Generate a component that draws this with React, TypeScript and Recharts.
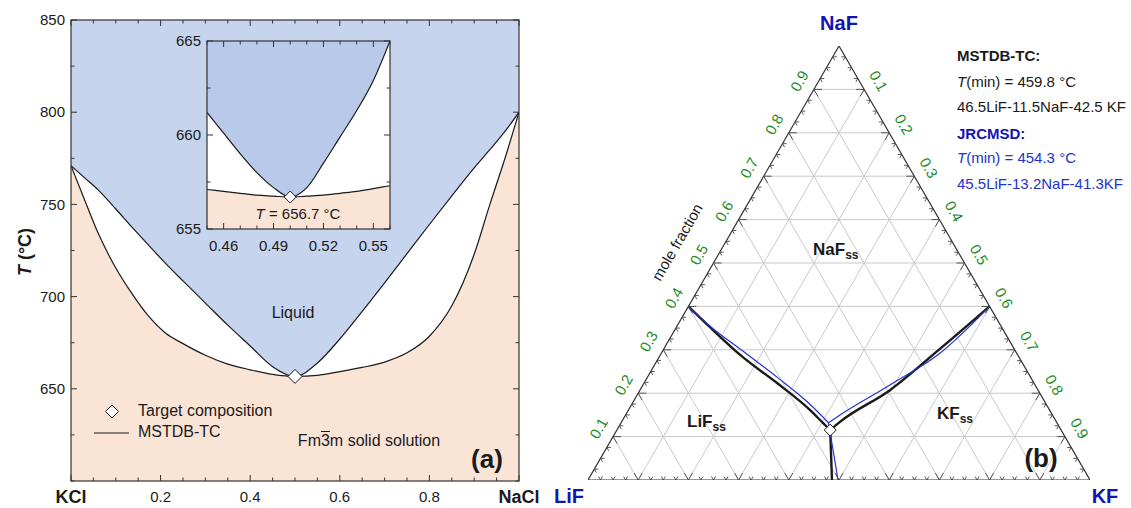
import React from 'react'
import { ComposedChart, Area, Line, Scatter, XAxis, YAxis, CartesianGrid } from 'recharts'

const FONT = '"Liberation Sans", Arial, Helvetica, sans-serif'
const INK = '#1a1a1a'
const AXIS = '#333'
const LIQ_BLUE = '#c6d4ed'
const INSET_BLUE = '#b8c9e9'
const SOLID_PINK = '#fae4d6'
const GREEN = '#1e8a1e'
const NAVY = '#1414b4'
const JRC_BLUE = '#2233cc'
const GRID = '#c9c9c9'

// ---------- (a) KCl-NaCl ----------
const X_NACL = [0, 0.03, 0.06, 0.1, 0.135, 0.17, 0.21, 0.25, 0.3, 0.35, 0.4, 0.45, 0.5, 0.55, 0.6, 0.65, 0.7, 0.75, 0.8, 0.85, 0.9, 0.935, 0.97, 1]
const LIQUIDUS = [771, 764.5, 758, 747.5, 738, 728.7, 718.3, 708.5, 696.5, 684.5, 673.2, 662, 656.7, 664, 677, 692, 707.5, 723.3, 739.1, 754.6, 769.8, 779.7, 790, 800]
const SOLIDUS = [771, 752.7, 734.7, 715.5, 702, 690.3, 680.4, 674.5, 668.2, 663.4, 660.3, 657.8, 656.7, 657.3, 659.3, 661.6, 664.5, 669.5, 678.5, 695, 723, 750, 776, 800]
const TARGET = [{ x: 0.5, T: 656.7 }]

const X_TICKS = [0, 0.05, 0.1, 0.15, 0.2, 0.25, 0.3, 0.35, 0.4, 0.45, 0.5, 0.55, 0.6, 0.65, 0.7, 0.75, 0.8, 0.85, 0.9, 0.95, 1]
const X_MAJOR = [0, 0.2, 0.4, 0.6, 0.8, 1]
const X_TICK_LABELS: Record<string, string> = { '0': 'KCl', '0.2': '0.2', '0.4': '0.4', '0.6': '0.6', '0.8': '0.8', '1': 'NaCl' }
const T_TICKS = [600, 625, 650, 675, 700, 725, 750, 775, 800, 825, 850]
const T_LABELS = [650, 700, 750, 800, 850]

// inset around the minimum
const INSET_X = [0.45, 0.46, 0.47, 0.48, 0.49, 0.5, 0.51, 0.52, 0.53, 0.54, 0.55, 0.56]
const INSET_LIQ = [661.2, 660.1, 659.0, 658.0, 657.2, 656.7, 657.2, 658.5, 659.9, 661.3, 662.9, 665]
const INSET_SOL = [657.1, 657.0, 656.9, 656.8, 656.75, 656.7, 656.75, 656.8, 656.9, 657.0, 657.15, 657.3]
const INSET_X_TICKS = [0.45, 0.46, 0.47, 0.48, 0.49, 0.5, 0.51, 0.52, 0.53, 0.54, 0.55, 0.56]
const INSET_X_LABELS = [0.46, 0.49, 0.52, 0.55]
const INSET_T_TICKS = [655, 657.5, 660, 662.5, 665]
const INSET_T_LABELS = [655, 660, 665]

// ---------- (b) LiF-NaF-KF, compositions as [LiF, NaF, KF] ----------
type Tern = [number, number, number]
const MSTDB_LIF_NAF: Tern[] = [[0.6, 0.4, 0], [0.581, 0.352, 0.067], [0.55, 0.283, 0.167], [0.512, 0.224, 0.264], [0.477, 0.161, 0.362], [0.466, 0.131, 0.403], [0.465, 0.115, 0.425]]
const MSTDB_NAF_KF: Tern[] = [[0.465, 0.115, 0.425], [0.431, 0.134, 0.435], [0.295, 0.207, 0.498], [0.148, 0.302, 0.55], [0, 0.4, 0.6]]
const MSTDB_LIF_KF: Tern[] = [[0.465, 0.115, 0.425], [0.514, 0, 0.486]]
const JRC_LIF_NAF: Tern[] = [[0.6, 0.4, 0], [0.58, 0.355, 0.065], [0.543, 0.297, 0.16], [0.505, 0.237, 0.258], [0.471, 0.175, 0.354], [0.455, 0.132, 0.413]]
const JRC_NAF_KF: Tern[] = [[0.455, 0.132, 0.413], [0.423, 0.15, 0.427], [0.289, 0.219, 0.492], [0.153, 0.292, 0.555], [0, 0.4, 0.6]]
const JRC_LIF_KF: Tern[] = [[0.455, 0.132, 0.413], [0.483, 0.053, 0.464], [0.502, 0, 0.498]]
const MSTDB_MIN: Tern = [0.465, 0.115, 0.425]
const GRID_STEPS = [0.1, 0.2, 0.3, 0.4, 0.5, 0.6, 0.7, 0.8, 0.9]
const EDGE_LABELS = ['0.1', '0.2', '0.3', '0.4', '0.5', '0.6', '0.7', '0.8', '0.9']

const H = Math.sqrt(3) / 2
const tern = ([lif, naf, kf]: Tern) => ({ x: kf + naf / 2, y: naf * H, lif })

const mainData = X_NACL.map((x, i) => ({ x, liq: LIQUIDUS[i], sol: SOLIDUS[i] }))
const insetData = INSET_X.map((x, i) => ({ x, liq: INSET_LIQ[i], sol: INSET_SOL[i] }))

// plot boxes (page pixels) – the charts' margins are derived from these
const MAIN = { left: 71, top: 20, w: 448, h: 461, cw: 540, ch: 508, yw: 60, xh: 20 }
const INSET = { x0: 150, y0: 30, left: 207, top: 41, w: 183, h: 188, cw: 250, ch: 230, yw: 50, xh: 25 }

const near = (list: number[], v: number) => list.some((m) => Math.abs(m - v) < 1e-6)

// bottom axis tick: draws the inward tick at the bottom and its mirror at the top of the frame
const xTick = (span: number, majors: number[], labelFor: (v: number) => string | null, gap: number) => (p: any) => {
  const v = Number(p.payload?.value)
  const len = near(majors, v) ? 6 : 3.5
  const { x, y } = p
  const lab = labelFor(v)
  const bold = lab === 'KCl' || lab === 'NaCl'
  return (
    <g>
      <line x1={x} y1={y} x2={x} y2={y - len} stroke={AXIS} />
      <line x1={x} y1={y - span} x2={x} y2={y - span + len} stroke={AXIS} />
      {lab && (
        <text x={x} y={y + gap} dy="0.35em" textAnchor="middle" fontFamily={FONT} fontSize={bold ? 18 : 15} fontWeight={bold ? 700 : 400} fill={INK}>{lab}</text>
      )}
    </g>
  )
}
// left axis tick with its mirror on the right side
const yTick = (span: number, majors: number[]) => (p: any) => {
  const v = Number(p.payload?.value)
  const major = near(majors, v)
  const len = major ? 6 : 3.5
  const { x, y } = p
  return (
    <g>
      <line x1={x} y1={y} x2={x + len} y2={y} stroke={AXIS} />
      <line x1={x + span} y1={y} x2={x + span - len} y2={y} stroke={AXIS} />
      {major && (
        <text x={x - 6} y={y} dy="0.35em" textAnchor="end" fontFamily={FONT} fontSize={15} fill={INK}>{v}</text>
      )}
    </g>
  )
}

const diamond = (half: number) => (p: any) => {
  const { cx, cy } = p
  return <path d={`M${cx},${cy - half}L${cx + half},${cy}L${cx},${cy + half}L${cx - half},${cy}Z`} fill="#fff" stroke={INK} strokeWidth={1} />
}

function PanelA() {
  const m = { top: MAIN.top, left: MAIN.left - MAIN.yw, right: MAIN.cw - MAIN.left - MAIN.w, bottom: MAIN.ch - MAIN.top - MAIN.h - MAIN.xh }
  return (
    <ComposedChart width={MAIN.cw} height={MAIN.ch} data={mainData} margin={m}>
      <CartesianGrid fill={LIQ_BLUE} fillOpacity={1} stroke="none" horizontal={false} vertical={false} />
      <XAxis dataKey="x" type="number" domain={[0, 1]} ticks={X_TICKS} interval={0} height={MAIN.xh} tickSize={0} tickMargin={0} tickLine={false} axisLine={false} allowDataOverflow
        tick={xTick(MAIN.h, X_MAJOR, (v) => X_TICK_LABELS[String(v)] ?? null, 16)} />
      <YAxis type="number" domain={[600, 850]} ticks={T_TICKS} interval={0} width={MAIN.yw} tickSize={0} tickMargin={0} tickLine={false} axisLine={false} allowDataOverflow
        tick={yTick(MAIN.w, T_LABELS)} />
      <Area type="monotone" dataKey="liq" fill="#ffffff" fillOpacity={1} stroke="none" isAnimationActive={false} />
      <Area type="monotone" dataKey="sol" fill={SOLID_PINK} fillOpacity={1} stroke="none" isAnimationActive={false} />
      <Line type="monotone" dataKey="liq" stroke={INK} strokeWidth={1.2} dot={false} activeDot={false} isAnimationActive={false} />
      <Line type="monotone" dataKey="sol" stroke={INK} strokeWidth={1.2} dot={false} activeDot={false} isAnimationActive={false} />
      <Scatter data={TARGET} dataKey="T" shape={diamond(7)} isAnimationActive={false} />
    </ComposedChart>
  )
}

function Inset() {
  const m = { top: INSET.top - INSET.y0, left: INSET.left - INSET.x0 - INSET.yw, right: INSET.cw - (INSET.left - INSET.x0) - INSET.w, bottom: INSET.ch - (INSET.top - INSET.y0) - INSET.h - INSET.xh }
  return (
    <ComposedChart width={INSET.cw} height={INSET.ch} data={insetData} margin={m}>
      <CartesianGrid fill={INSET_BLUE} fillOpacity={1} stroke="none" horizontal={false} vertical={false} />
      <XAxis dataKey="x" type="number" domain={[0.45, 0.56]} ticks={INSET_X_TICKS} interval={0} height={INSET.xh} tickSize={0} tickMargin={0} tickLine={false} axisLine={false} allowDataOverflow
        tick={xTick(INSET.h, INSET_X_LABELS, (v) => (near(INSET_X_LABELS, v) ? v.toFixed(2) : null), 17)} />
      <YAxis type="number" domain={[655, 665]} ticks={INSET_T_TICKS} interval={0} width={INSET.yw} tickSize={0} tickMargin={0} tickLine={false} axisLine={false} allowDataOverflow
        tick={yTick(INSET.w, INSET_T_LABELS)} />
      <Area type="monotone" dataKey="liq" fill="#ffffff" fillOpacity={1} stroke="none" isAnimationActive={false} />
      <Area type="monotone" dataKey="sol" fill={SOLID_PINK} fillOpacity={1} stroke="none" isAnimationActive={false} />
      <Line type="monotone" dataKey="liq" stroke={INK} strokeWidth={1.2} dot={false} activeDot={false} isAnimationActive={false} />
      <Line type="monotone" dataKey="sol" stroke={INK} strokeWidth={1.2} dot={false} activeDot={false} isAnimationActive={false} />
      <Scatter data={TARGET} dataKey="T" shape={diamond(6)} isAnimationActive={false} />
    </ComposedChart>
  )
}

// ternary grid lines: constant NaF, constant LiF, constant KF
const gridLines = GRID_STEPS.flatMap((v) => [
  [tern([1 - v, v, 0]), tern([0, v, 1 - v])],
  [tern([v, 0, 1 - v]), tern([v, 1 - v, 0])],
  [tern([1 - v, 0, v]), tern([0, 1 - v, v])],
])
const frame = [tern([1, 0, 0]), tern([0, 0, 1]), tern([0, 1, 0]), tern([1, 0, 0])]

const TICK_FRACS = Array.from({ length: 39 }, (_, i) => (i + 1) / 40)
const edgeTicks = TICK_FRACS.flatMap((v, i) => {
  const major = (i + 1) % 4 === 0
  return [
    { ...tern([v, 0, 1 - v]), side: 'bottom', major },
    { ...tern([1 - v, v, 0]), side: 'left', major },
    { ...tern([0, 1 - v, v]), side: 'right', major },
  ]
})
const edgeLabels = GRID_STEPS.flatMap((v, i) => [
  { ...tern([v, 0, 1 - v]), side: 'bottom', text: EDGE_LABELS[i] },
  { ...tern([1 - v, v, 0]), side: 'left', text: EDGE_LABELS[i] },
  { ...tern([0, 1 - v, v]), side: 'right', text: EDGE_LABELS[i] },
])

const DIRS: Record<string, number[][]> = {
  bottom: [[-0.5, -H], [0.5, -H]],
  left: [[1, 0], [0.5, H]],
  right: [[-1, 0], [-0.5, H]],
}
const edgeTickShape = (p: any) => {
  const { cx, cy, payload } = p
  const L = payload.major ? 8 : 4
  return (
    <g>
      {DIRS[payload.side].map(([dx, dy], i) => (
        <line key={i} x1={cx} y1={cy} x2={cx + dx * L} y2={cy + dy * L} stroke="#444" strokeWidth={0.9} />
      ))}
    </g>
  )
}
const edgeLabelShape = (p: any) => {
  const { cx, cy, payload } = p
  const d = 17
  let tx = cx
  let ty = cy + d
  let rot = 0
  if (payload.side === 'left') { tx = cx - H * d; ty = cy - 0.5 * d; rot = -60 }
  if (payload.side === 'right') { tx = cx + H * d; ty = cy - 0.5 * d; rot = 60 }
  return (
    <text x={tx} y={ty} transform={`rotate(${rot} ${tx} ${ty})`} textAnchor="middle" dominantBaseline="central" fontFamily={FONT} fontSize={15} fill={GREEN}>
      {payload.text}
    </text>
  )
}

function PanelB() {
  const curves = [
    { key: 'm1', pts: MSTDB_LIF_NAF, color: INK, w: 2.4, kind: 'monotone' },
    { key: 'm2', pts: MSTDB_NAF_KF, color: INK, w: 2.4, kind: 'monotone' },
    { key: 'm3', pts: MSTDB_LIF_KF, color: INK, w: 2.4, kind: 'linear' },
    { key: 'j1', pts: JRC_LIF_NAF, color: JRC_BLUE, w: 1.2, kind: 'monotone' },
    { key: 'j2', pts: JRC_NAF_KF, color: JRC_BLUE, w: 1.2, kind: 'monotone' },
    { key: 'j3', pts: JRC_LIF_KF, color: JRC_BLUE, w: 1.2, kind: 'linear' },
  ]
  return (
    <ComposedChart width={571} height={508} margin={{ top: 46, right: 41, bottom: 28, left: 28 }}>
      <XAxis dataKey="x" type="number" domain={[0, 1]} hide allowDataOverflow />
      <YAxis type="number" domain={[0, H]} hide allowDataOverflow />
      {gridLines.map((seg, i) => (
        <Line key={`g${i}`} data={seg} dataKey="y" type="linear" stroke={GRID} strokeWidth={1} dot={false} activeDot={false} isAnimationActive={false} />
      ))}
      <Line data={frame} dataKey="y" type="linear" stroke={AXIS} strokeWidth={1.2} dot={false} activeDot={false} isAnimationActive={false} />
      {curves.map((c) => (
        <Line key={c.key} data={c.pts.map(tern)} dataKey="y" type={c.kind as any} stroke={c.color} strokeWidth={c.w} dot={false} activeDot={false} isAnimationActive={false} />
      ))}
      <Scatter data={edgeTicks} dataKey="y" shape={edgeTickShape} isAnimationActive={false} />
      <Scatter data={edgeLabels} dataKey="y" shape={edgeLabelShape} isAnimationActive={false} />
      <Scatter data={[tern(MSTDB_MIN)]} dataKey="y" shape={diamond(6)} isAnimationActive={false} />
    </ComposedChart>
  )
}

type TxtProps = { x: number; y: number; children: React.ReactNode; size?: number; color?: string; bold?: boolean; anchor?: 'start' | 'middle'; rotate?: number }
function Txt({ x, y, children, size = 15, color = INK, bold = false, anchor = 'start', rotate = 0 }: TxtProps) {
  return (
    <div style={{
      position: 'absolute', left: x, top: y, whiteSpace: 'nowrap', lineHeight: 1, fontSize: size, color,
      fontWeight: bold ? 700 : 400,
      transform: `translate(${anchor === 'middle' ? '-50%' : '0'}, -50%) rotate(${rotate}deg)`,
    }}>
      {children}
    </div>
  )
}

const sub = { fontSize: 12, verticalAlign: -4 } as React.CSSProperties

function Frame({ left, top, w, h }: { left: number; top: number; w: number; h: number }) {
  return (
    <svg style={{ position: 'absolute', left: left - 1, top: top - 1, pointerEvents: 'none' }} width={w + 2} height={h + 2}>
      <rect x={1} y={1} width={w} height={h} fill="none" stroke={AXIS} strokeWidth={1.2} />
    </svg>
  )
}

export default function App() {
  return (
    <div style={{ position: 'absolute', left: 0, top: 0, width: 1131, height: 508, background: '#fff', fontFamily: FONT, overflow: 'hidden' }}>
      <div style={{ position: 'absolute', left: 0, top: 0 }}><PanelA /></div>
      <Frame left={MAIN.left} top={MAIN.top} w={MAIN.w} h={MAIN.h} />
      <div style={{ position: 'absolute', left: INSET.x0, top: INSET.y0 }}><Inset /></div>
      <Frame left={INSET.left} top={INSET.top} w={INSET.w} h={INSET.h} />
      <div style={{ position: 'absolute', left: 560, top: 0 }}><PanelB /></div>

      {/* (a) annotations */}
      <Txt x={25} y={252} size={18} bold anchor="middle" rotate={-90}><i>T</i> (°C)</Txt>
      <Txt x={298} y={213} anchor="middle"><i>T</i> = 656.7 °C</Txt>
      <Txt x={293} y={313} size={16} anchor="middle">Liquid</Txt>
      <Txt x={369} y={441} size={16} anchor="middle">Fm<span style={{ textDecoration: 'overline' }}>3</span>m solid solution</Txt>
      <Txt x={487} y={459} size={26} bold anchor="middle">(a)</Txt>
      <svg style={{ position: 'absolute', left: 90, top: 400 }} width={42} height={42}>
        <path d="M22,5L28.5,11.5L22,18L15.5,11.5Z" fill="#fff" stroke={INK} strokeWidth={1} />
        <line x1={4} y1={33} x2={39} y2={33} stroke={INK} strokeWidth={1.2} />
      </svg>
      <Txt x={138} y={411} size={16}>Target composition</Txt>
      <Txt x={138} y={432} size={16}>MSTDB-TC</Txt>

      {/* (b) annotations */}
      <Txt x={839} y={23} size={20} bold color={NAVY} anchor="middle">NaF</Txt>
      <Txt x={569} y={496} size={20} bold color={NAVY} anchor="middle">LiF</Txt>
      <Txt x={1105} y={496} size={20} bold color={NAVY} anchor="middle">KF</Txt>
      <Txt x={677} y={242} size={15} anchor="middle" rotate={-60}>mole fraction</Txt>
      <Txt x={813} y={251} size={17} bold>NaF<span style={sub}>ss</span></Txt>
      <Txt x={687} y={423} size={17} bold>LiF<span style={sub}>ss</span></Txt>
      <Txt x={937} y={415} size={17} bold>KF<span style={sub}>ss</span></Txt>
      <Txt x={1041} y={458} size={26} bold anchor="middle">(b)</Txt>

      <Txt x={957} y={55} bold>MSTDB-TC:</Txt>
      <Txt x={957} y={81}><i>T</i>(min) = 459.8 °C</Txt>
      <Txt x={957} y={106}>46.5LiF-11.5NaF-42.5 KF</Txt>
      <Txt x={957} y={133} bold color={NAVY}>JRCMSD:</Txt>
      <Txt x={957} y={157} color={JRC_BLUE}><i>T</i>(min) = 454.3 °C</Txt>
      <Txt x={957} y={183} color={JRC_BLUE}>45.5LiF-13.2NaF-41.3KF</Txt>
    </div>
  )
}
